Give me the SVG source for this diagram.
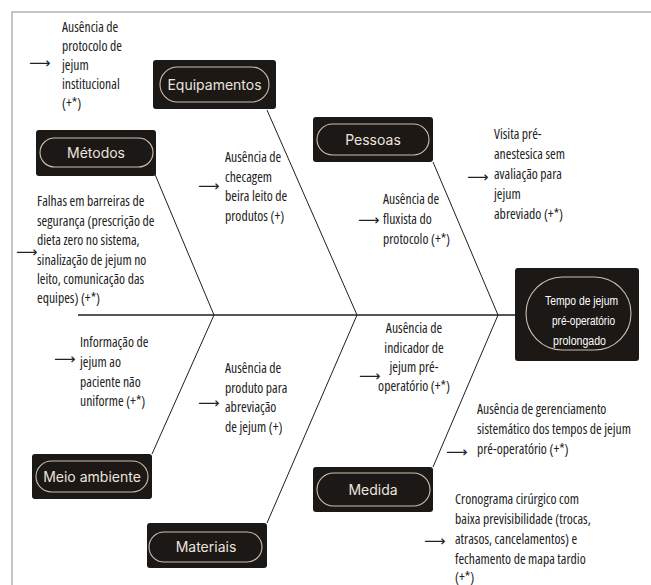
<svg xmlns="http://www.w3.org/2000/svg" width="651" height="585" viewBox="0 0 651 585">
<style>
.frame{fill:none;stroke:#c4c4c4;stroke-width:2}
.box{fill:#1b1816}
.pill{fill:none;stroke:#cdbfb0;stroke-width:1.1}
.lbl{font-family:Inter,"Liberation Sans",sans-serif;font-size:14px;fill:#ece4dc;text-anchor:middle}
.main{font-family:"Liberation Sans",sans-serif;font-size:12.5px;fill:#ffffff}
.t{font-family:"Open Sans","Noto Sans",sans-serif;font-stretch:75%;font-size:13.7px;fill:#222222}
.arr{font-family:"DejaVu Sans",sans-serif;font-size:15px;fill:#222222}
.bone{fill:none;stroke:#1e1e1e;stroke-width:1}
.spine{fill:none;stroke:#1e1e1e;stroke-width:1.4}
</style>
<rect width="651" height="585" fill="#ffffff"/>
<path class="frame" d="M12,585 V12 H651"/>
<g id="connectors">
<line class="spine" x1="78" y1="315" x2="515" y2="315"/>
<line class="bone" x1="154" y1="172" x2="214" y2="315"/>
<line class="bone" x1="267" y1="110" x2="357" y2="315"/>
<line class="bone" x1="433" y1="162" x2="498" y2="315"/>
<line class="bone" x1="152" y1="454" x2="214" y2="315"/>
<line class="bone" x1="267" y1="523" x2="357" y2="315"/>
<line class="bone" x1="433" y1="467" x2="498" y2="315"/>
</g>
<g id="n-equipamentos">
<rect class="box" x="153" y="60" width="123" height="49" rx="3"/>
<rect class="pill" x="160" y="67" width="109" height="35" rx="17.5"/>
<text class="lbl" x="214.5" y="89.5">Equipamentos</text>
</g>
<g id="n-metodos">
<rect class="box" x="36" y="130" width="120" height="46" rx="3"/>
<rect class="pill" x="40" y="138" width="113" height="29" rx="14.5"/>
<text class="lbl" x="96" y="158">Métodos</text>
</g>
<g id="n-pessoas">
<rect class="box" x="313" y="117" width="120" height="45" rx="3"/>
<rect class="pill" x="317" y="124" width="112" height="31" rx="15.5"/>
<text class="lbl" x="373" y="144.5">Pessoas</text>
</g>
<g id="n-efeito">
<rect class="box" x="515" y="268" width="124" height="93" rx="3"/>
<rect class="pill" x="526" y="277" width="105" height="73" rx="36.5"/>
<text class="main"><tspan x="545" y="305" textLength="73" lengthAdjust="spacingAndGlyphs">Tempo de jejum</tspan><tspan x="552" y="325" textLength="63" lengthAdjust="spacingAndGlyphs">pré-operatório</tspan><tspan x="553" y="345" textLength="53" lengthAdjust="spacingAndGlyphs">prolongado</tspan></text>
</g>
<g id="n-meio-ambiente">
<rect class="box" x="32" y="454" width="120" height="45" rx="3"/>
<rect class="pill" x="36" y="461" width="112" height="31" rx="15.5"/>
<text class="lbl" x="92" y="481.5">Meio ambiente</text>
</g>
<g id="n-materiais">
<rect class="box" x="147" y="523" width="120" height="45" rx="3"/>
<rect class="pill" x="149" y="532" width="113" height="30" rx="15"/>
<text class="lbl" x="206" y="552">Materiais</text>
</g>
<g id="n-medida">
<rect class="box" x="313" y="467" width="120" height="45" rx="3"/>
<rect class="pill" x="317" y="473" width="113" height="33" rx="16.5"/>
<text class="lbl" x="373" y="494.5">Medida</text>
</g>
<g id="c1">
<text class="arr" x="29" y="68">⟶</text>
<text class="t"><tspan x="62" y="32">Ausência de</tspan><tspan x="62" y="51">protocolo de</tspan><tspan x="62" y="70">jejum</tspan><tspan x="62" y="89">institucional</tspan><tspan x="62" y="108">(+*)</tspan></text>
</g>
<g id="c2">
<text class="arr" x="198" y="191">⟶</text>
<text class="t"><tspan x="225" y="162">Ausência de</tspan><tspan x="225" y="181.5">checagem</tspan><tspan x="225" y="201">beira leito de</tspan><tspan x="225" y="220.5">produtos (+)</tspan></text>
</g>
<g id="c3">
<text class="arr" x="16" y="257">⟶</text>
<text class="t"><tspan x="37" y="206">Falhas em barreiras de</tspan><tspan x="37" y="225.5">segurança (prescrição de</tspan><tspan x="37" y="245">dieta zero no sistema,</tspan><tspan x="37" y="264.5">sinalização de jejum no</tspan><tspan x="37" y="284">leito, comunicação das</tspan><tspan x="37" y="303">equipes) (+*)</tspan></text>
</g>
<g id="c4">
<text class="arr" x="467" y="182">⟶</text>
<text class="t"><tspan x="494" y="139">Visita pré-</tspan><tspan x="494" y="159">anestesica sem</tspan><tspan x="494" y="179">avaliação para</tspan><tspan x="494" y="199">jejum</tspan><tspan x="494" y="219">abreviado (+*)</tspan></text>
</g>
<g id="c5">
<text class="arr" x="358" y="225">⟶</text>
<text class="t"><tspan x="383" y="204">Ausência de</tspan><tspan x="383" y="224">fluxista do</tspan><tspan x="383" y="244">protocolo (+*)</tspan></text>
</g>
<g id="c6">
<text class="arr" x="359" y="381">⟶</text>
<text class="t" text-anchor="middle"><tspan x="414" y="333">Ausência de</tspan><tspan x="414" y="353">indicador de</tspan><tspan x="414" y="372">jejum pré-</tspan><tspan x="414" y="391">operatório (+*)</tspan></text>
</g>
<g id="c7">
<text class="arr" x="54" y="364">⟶</text>
<text class="t"><tspan x="80" y="347">Informação de</tspan><tspan x="80" y="367">jejum ao</tspan><tspan x="80" y="387">paciente não</tspan><tspan x="80" y="406">uniforme (+*)</tspan></text>
</g>
<g id="c8">
<text class="arr" x="198" y="408">⟶</text>
<text class="t"><tspan x="225" y="373">Ausência de</tspan><tspan x="225" y="392.5">produto para</tspan><tspan x="225" y="412">abreviação</tspan><tspan x="225" y="432">de jejum (+)</tspan></text>
</g>
<g id="c9">
<text class="arr" x="446" y="457">⟶</text>
<text class="t"><tspan x="477" y="414">Ausência de gerenciamento</tspan><tspan x="477" y="434">sistemático dos tempos de jejum</tspan><tspan x="477" y="454">pré-operatório (+*)</tspan></text>
</g>
<g id="c10">
<text class="arr" x="424" y="546">⟶</text>
<text class="t"><tspan x="455" y="504">Cronograma cirúrgico com</tspan><tspan x="455" y="524">baixa previsibilidade (trocas,</tspan><tspan x="455" y="544">atrasos, cancelamentos) e</tspan><tspan x="455" y="564">fechamento de mapa tardio</tspan><tspan x="455" y="582">(+*)</tspan></text>
</g>
</svg>
